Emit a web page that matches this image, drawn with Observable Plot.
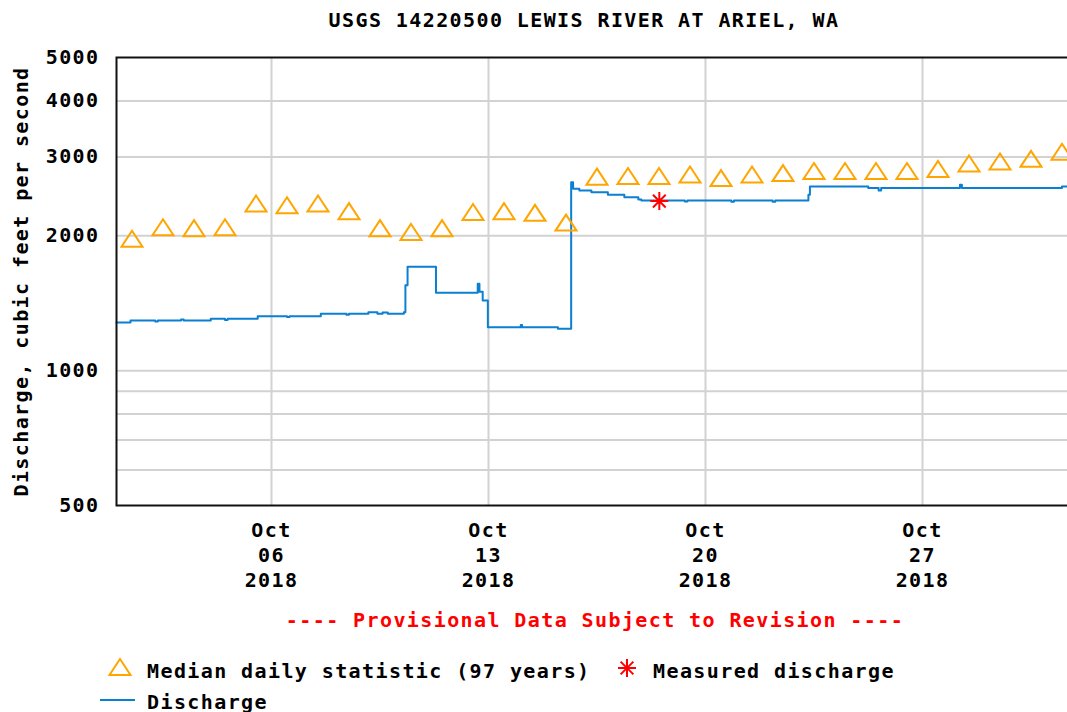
<!DOCTYPE html>
<html><head><meta charset="utf-8">
<script src="https://cdn.jsdelivr.net/npm/d3@7"></script>
<script src="https://cdn.jsdelivr.net/npm/@observablehq/plot@0.6"></script>
<style>
body{margin:0;background:#fff;overflow:hidden;}
#wrap{position:relative;width:1067px;height:712px;overflow:hidden;font-family:"DejaVu Sans Mono",monospace;font-weight:bold;color:#000;}
#wrap svg{max-width:none !important;position:absolute;left:0;top:0;}
.t{position:absolute;white-space:pre;font-size:20px;letter-spacing:1.4px;line-height:20px;}
.g{position:absolute;overflow:visible;}
</style></head><body><div id="wrap"></div>
<script>
// ---- data ----
const titleText = "USGS 14220500 LEWIS RIVER AT ARIEL, WA";
const yLabel = "Discharge, cubic feet per second";
const captionText = "---- Provisional Data Subject to Revision ----";
const yTicks = [500, 1000, 2000, 3000, 4000, 5000];
const yGrid = [600, 700, 800, 900, 1000, 2000, 3000, 4000];
const xTickDays = [6, 13, 20, 27];
const xTickMonth = "Oct";
const xTickYear = "2018";

// Median daily statistic (97 years), one per day Oct 1..31 (plotted at noon)
const medianDays = [1,2,3,4,5,6,7,8,9,10,11,12,13,14,15,16,17,18,19,20,21,22,23,24,25,26,27,28,29,30,31];
const medianCfs = [1970,2090,2080,2090,2360,2340,2360,2270,2080,2040,2080,2260,2270,2250,2140,
                   2710,2720,2720,2740,2690,2740,2760,2790,2790,2790,2790,2820,2900,2930,2970,3080];

// Measured discharge
const measuredTime = ["2018-10-18T12:15Z"];
const measuredCfs = [2390];

// Discharge (provisional), breakpoints
const dischargeTime = [
 "2018-10-01T00:00Z","2018-10-01T10:50Z","2018-10-02T06:00Z","2018-10-02T08:00Z","2018-10-03T02:00Z","2018-10-03T04:00Z",
 "2018-10-04T01:00Z","2018-10-04T12:00Z","2018-10-04T14:00Z","2018-10-05T13:20Z","2018-10-06T12:00Z","2018-10-06T14:00Z",
 "2018-10-07T14:10Z","2018-10-08T10:00Z","2018-10-08T12:00Z","2018-10-09T03:00Z","2018-10-09T10:00Z","2018-10-09T14:00Z",
 "2018-10-09T18:00Z","2018-10-10T06:30Z","2018-10-10T07:40Z","2018-10-10T09:20Z","2018-10-11T07:20Z","2018-10-12T15:40Z",
 "2018-10-12T17:00Z","2018-10-12T19:30Z","2018-10-12T23:30Z","2018-10-14T01:00Z","2018-10-14T02:00Z","2018-10-15T05:45Z",
 "2018-10-15T16:00Z","2018-10-15T17:30Z","2018-10-15T22:20Z","2018-10-16T07:40Z","2018-10-16T20:25Z","2018-10-17T09:10Z",
 "2018-10-17T20:00Z","2018-10-17T22:20Z","2018-10-19T08:00Z","2018-10-19T10:00Z","2018-10-20T20:00Z","2018-10-20T22:00Z",
 "2018-10-22T04:00Z","2018-10-22T06:00Z","2018-10-23T07:40Z","2018-10-23T08:50Z","2018-10-25T06:00Z","2018-10-25T14:00Z",
 "2018-10-25T16:00Z","2018-10-28T05:00Z","2018-10-28T06:30Z","2018-10-31T12:00Z","2018-11-01T00:00Z"];
const dischargeCfs = [
 1281,1294,1288,1294,1300,1294,
 1306,1298,1306,1323,1317,1323,
 1340,1333,1340,1350,1340,1348,
 1340,1350,1550,1705,1493,1562,
 1500,1434,1250,1265,1250,1240,
 2634,2546,2524,2502,2469,2438,
 2410,2398,2385,2398,2382,2398,
 2382,2398,2470,2576,2556,2524,
 2556,2600,2558,2575,2575];

// legend labels
const legendMedian = "Median daily statistic (97 years)";
const legendMeasured = "Measured discharge";
const legendDischarge = "Discharge";

// ---- styles ----
const ORANGE = "#FFA500", BLUE = "#0B7FD1", RED = "#FF0000", GRID = "#d2d2d2";

const tri = {draw(ctx){ ctx.moveTo(0,-8); ctx.lineTo(10.5,8); ctx.lineTo(-10.5,8); ctx.closePath(); }};
const star = {draw(ctx){ const r=9, d=r*Math.SQRT1_2;
  ctx.moveTo(0,-r); ctx.lineTo(0,r); ctx.moveTo(-r,0); ctx.lineTo(r,0);
  ctx.moveTo(-d,-d); ctx.lineTo(d,d); ctx.moveTo(-d,d); ctx.lineTo(d,-d); }};

const median = medianDays.map((d,i)=>({t:new Date(Date.UTC(2018,9,d,12)), v:medianCfs[i]}));
const measured = measuredTime.map((s,i)=>({t:new Date(s), v:measuredCfs[i]}));
const discharge = dischargeTime.map((s,i)=>({t:new Date(s), v:dischargeCfs[i]}));
const xTicks = xTickDays.map(d=>new Date(Date.UTC(2018,9,d)));

const chart = Plot.plot({
  width: 1080, height: 600,
  marginLeft: 116, marginRight: 3, marginTop: 57, marginBottom: 95,
  style: {fontFamily:'"DejaVu Sans Mono", monospace', fontSize:"20px", fontWeight:"bold", letterSpacing:"1.4px", background:"#fff", color:"#000", maxWidth:"none"},
  x: {type:"utc", domain:[new Date(Date.UTC(2018,9,1)), new Date(Date.UTC(2018,10,1))]},
  y: {type:"log", domain:[500,5000]},
  marks: [
    Plot.ruleY(yGrid, {stroke:GRID, strokeWidth:2}),
    Plot.ruleX(xTicks, {stroke:GRID, strokeWidth:2}),
    Plot.axisY({ticks:yTicks, tickFormat:d=>String(d), tickSize:0, tickPadding:17,
      label:yLabel, labelAnchor:"center", labelArrow:false, labelOffset:103}),
    Plot.axisX({ticks:xTicks, tickFormat:d=>`${xTickMonth}\n${String(d.getUTCDate()).padStart(2,"0")}\n${xTickYear}`,
      tickSize:0, tickPadding:14, lineHeight:1.25, label:null}),
    Plot.line(discharge, {x:"t", y:"v", stroke:BLUE, strokeWidth:2, curve:"step-after"}),
    Plot.dot(median, {x:"t", y:"v", symbol:tri, r:7, stroke:ORANGE, strokeWidth:2, fill:"none"}),
    Plot.dot(measured, {x:"t", y:"v", symbol:star, r:7, stroke:RED, strokeWidth:2, fill:"none"}),
    Plot.frame({stroke:"#111", strokeWidth:2})
  ]
});

const wrap = document.getElementById("wrap");
wrap.appendChild(chart);

function addText(txt, x, cy, color, center){
  const d = document.createElement("div");
  d.className = "t"; d.textContent = txt;
  d.style.left = x + "px"; d.style.top = (cy - 9.5) + "px";
  if (color) d.style.color = color;
  if (center) d.style.transform = "translateX(-50%)";
  wrap.appendChild(d);
}
addText(titleText, 584, 19, null, true);
addText(captionText, 595, 619, RED, true);
addText(legendMedian, 147, 670);
addText(legendMeasured, 653, 670);
addText(legendDischarge, 147, 701);

const ns = "http://www.w3.org/2000/svg";
const g = document.createElementNS(ns, "svg");
g.setAttribute("width", 1067); g.setAttribute("height", 712);
g.setAttribute("class", "g"); g.style.left = "0px"; g.style.top = "0px"; g.style.pointerEvents = "none";
g.innerHTML = `
 <path d="M120,659 L130.5,675 L109.5,675 Z" fill="none" stroke="${ORANGE}" stroke-width="2"/>
 <g stroke="${RED}" stroke-width="2" transform="translate(627,668)">
   <line x1="0" y1="-9" x2="0" y2="9"/><line x1="-9" y1="0" x2="9" y2="0"/>
   <line x1="-6.4" y1="-6.4" x2="6.4" y2="6.4"/><line x1="-6.4" y1="6.4" x2="6.4" y2="-6.4"/>
 </g>
 <line x1="100" y1="700" x2="135" y2="700" stroke="${BLUE}" stroke-width="2"/>`;
wrap.appendChild(g);
</script>
</body></html>
